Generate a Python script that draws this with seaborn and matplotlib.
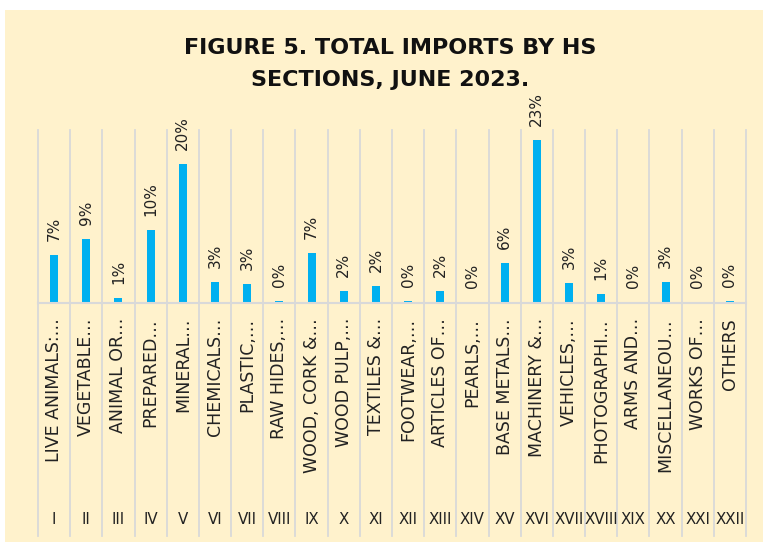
# Total imports by HS sections, June 2023 - bar chart
import matplotlib.pyplot as plt
from matplotlib.patches import Rectangle
import matplotlib.transforms as mtransforms
import seaborn as sns

sections = ["I", "II", "III", "IV", "V", "VI", "VII", "VIII", "IX", "X", "XI",
            "XII", "XIII", "XIV", "XV", "XVI", "XVII", "XVIII", "XIX", "XX", "XXI", "XXII"]
names = ["LIVE ANIMALS:…", "VEGETABLE…", "ANIMAL OR…", "PREPARED…", "MINERAL…",
         "CHEMICALS…", "PLASTIC,…", "RAW HIDES,…", "WOOD, CORK &…", "WOOD PULP,…",
         "TEXTILES &…", "FOOTWEAR,…", "ARTICLES OF…", "PEARLS,…", "BASE METALS…",
         "MACHINERY &…", "VEHICLES,…", "PHOTOGRAPHI…", "ARMS AND…", "MISCELLANEOU…",
         "WORKS OF…", "OTHERS"]
shares = [6.9, 9.2, 0.7, 10.5, 20.1, 3.0, 2.7, 0.2, 7.2, 1.7, 2.4,
          0.2, 1.7, 0.1, 5.8, 23.6, 2.9, 1.3, 0.1, 3.0, 0.1, 0.3]
share_labels = ["7%", "9%", "1%", "10%", "20%", "3%", "3%", "0%", "7%", "2%", "2%",
                "0%", "2%", "0%", "6%", "23%", "3%", "1%", "0%", "3%", "0%", "0%"]

W, H = 763, 542
fig = plt.figure(figsize=(W / 100, H / 100), dpi=100)
fig.patch.set_facecolor("white")
fig.patches.append(Rectangle((5 / W, 0), 1, 1 - 10 / H, transform=fig.transFigure,
                             facecolor="#FFF2CC", edgecolor="none", zorder=-10))

base_y, top_y = 302.7, 130
ax = fig.add_axes([38 / W, 1 - base_y / H, (746 - 38) / W, (base_y - top_y) / H])
ax.set_facecolor("none")

sns.barplot(x=names, y=shares, color="#00B0F0", width=0.25, saturation=1, ax=ax)
ax.bar_label(ax.containers[0], labels=share_labels, rotation=90, padding=10,
             fontsize=11, family="DejaVu Sans", color="#222222")

ax.set_ylim(0, 25)
ax.set_xlim(-0.5, len(names) - 0.5)
ax.set_yticks([])
for s in ["left", "right", "top"]:
    ax.spines[s].set_visible(False)
ax.spines["bottom"].set_color("#D9D9D9")
ax.spines["bottom"].set_linewidth(1.5)

# vertical separators running through the label area
ax_h = base_y - top_y
for i in range(len(names) + 1):
    ax.axvline(i - 0.5, ymin=-(536 - base_y) / ax_h, ymax=1, color="#D9D9D9",
               lw=1.3, clip_on=False, zorder=0)

ax.tick_params(axis="x", length=0, pad=11)
ax.set_xticks(range(len(names)))
ax.set_xticklabels(names, rotation=90, fontsize=12.5, family="DejaVu Sans",
                   color="#222222", va="top", ha="center")
ax.set_xlabel("")

trans = mtransforms.blended_transform_factory(ax.transData, ax.transAxes)
for i, s in enumerate(sections):
    ax.text(i, -(520 - base_y) / ax_h, s, transform=trans, ha="center", va="center",
            fontsize=10.8, family="DejaVu Sans", color="#222222")

fig.text(390 / W, 1 - 48 / H, "FIGURE 5. TOTAL IMPORTS BY HS", ha="center", va="center",
         fontsize=16, fontweight="bold", family="DejaVu Sans", color="#111111")
fig.text(390 / W, 1 - 80 / H, "SECTIONS, JUNE 2023.", ha="center", va="center",
         fontsize=16, fontweight="bold", family="DejaVu Sans", color="#111111")

fig.savefig("out.png", dpi=100)
